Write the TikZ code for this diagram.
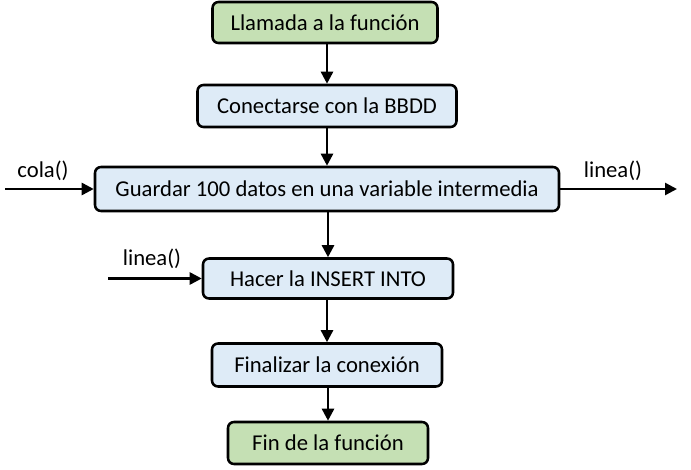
\documentclass[tikz,border=0pt]{standalone}
\usepackage{fontspec}
\setmainfont{Carlito}
\usepackage{xcolor}
\usepackage{tikz}
\usetikzlibrary{arrows.meta}
\definecolor{verde}{HTML}{C5E0B4}
\definecolor{azul}{HTML}{DEEBF7}
\tikzstyle{caja}= [rectangle, draw, line width=1.9pt, rounded corners=4.5pt, inner sep=0pt, font=\fontsize{17}{20}\selectfont]
\tikzstyle{ini}= [caja, fill=verde]
\tikzstyle{paso}= [caja, fill=azul]
\tikzstyle{flecha}= [line width=1.9pt, -{Triangle[length=9pt, width=9pt]}]
\tikzstyle{etiq}= [inner sep=0pt, font=\fontsize{17}{20}\selectfont]

\begin{document}
\begin{tikzpicture}[x=0.75pt, y=-0.75pt]
				\useasboundingbox (0, 0) rectangle (691, 470);
				\node[ini, minimum width=225*0.75pt, minimum height=41*0.75pt] (llamada) at (325, 22.5) {Llamada a la función};
				\node[paso, minimum width=259*0.75pt, minimum height=42*0.75pt] (conectar) at (327, 106) {Conectarse con la BBDD};
				\node[paso, minimum width=464*0.75pt, minimum height=44*0.75pt] (guardar) at (327, 189) {Guardar 100 datos en una variable intermedia};
				\node[paso, minimum width=250*0.75pt, minimum height=40*0.75pt] (insert) at (328, 278.5) {Hacer la INSERT INTO};
				\node[paso, minimum width=230*0.75pt, minimum height=43*0.75pt] (finalizar) at (327, 365) {Finalizar la conexión};
				\node[ini, minimum width=200*0.75pt, minimum height=42*0.75pt] (fin) at (328, 443) {Fin de la función};
				\node[etiq] (cola) at (43, 171) {cola()};
				\node[etiq] (lineaout) at (613, 171) {linea()};
				\node[etiq] (lineain) at (152, 259) {linea()};
				\coordinate (colain) at (5, 189);
				\coordinate (salida) at (677, 189);
				\coordinate (entrada) at (108, 278.5);
				\draw[flecha] (llamada.south -| conectar) -- (conectar.north);
				\draw[flecha] (conectar.south) -- (guardar.north);
				\draw[flecha] (guardar.south -| insert) -- (insert.north);
				\draw[flecha] (insert.south -| finalizar) -- (finalizar.north);
				\draw[flecha] (finalizar.south -| fin) -- (fin.north);
				\draw[flecha] (colain) -- (guardar.west);
				\draw[flecha] (guardar.east) -- (salida);
				\draw[flecha] (entrada) -- (insert.west);
			\end{tikzpicture}
\end{document}
